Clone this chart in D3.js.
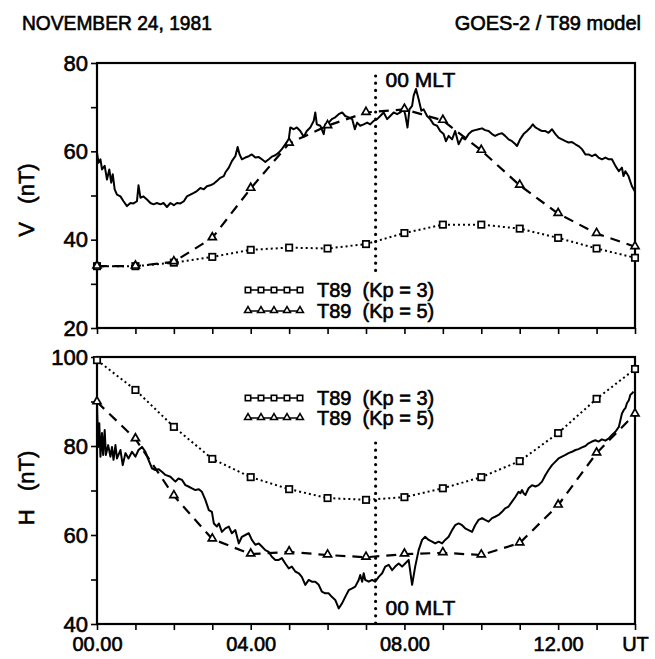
<!DOCTYPE html>
<html>
<head>
<meta charset="utf-8">
<script src="https://cdn.jsdelivr.net/npm/d3@7"></script>
<style>
  body { margin: 0; background: #fff; }
  text { font-family: "Liberation Sans", Arial, sans-serif; fill: #000; }
</style>
</head>
<body>
<div id="vis"></div>
<script>
// model values, one per hour UT
var modelHours = [0,1,2,3,4,5,6,7,8,9,10,11,12,13,14];
var vKp3 = [34,34,34.8,36.1,37.7,38.2,38,39,41.5,43.4,43.4,42.5,40.4,38,35.9];
var vKp5 = [34,34,35,40.4,51.6,61.8,65.8,68.8,69.5,67,60.2,52.3,45.9,41.4,38.4];
var hKp3 = [99.3,92.6,84.3,77.1,73,70.3,68.3,67.9,68.5,70.5,73,76.6,82.9,90.6,97.3];
var hKp5 = [89.9,81.6,68.8,59.1,55.7,56.2,55.5,55,55.7,56,55.5,58.2,66.7,78.4,87.2];

var vObsT = [0,.04,.09,.13,.2,.26,.32,.37,.41,.46,.52,.61,.69,.78,.87,.95,1.04,1.08,1.13,1.21,1.3,1.39,1.47,1.56,1.65,1.73,1.82,1.91,2,2.08,2.17,2.26,2.34,2.43,2.52,2.6,2.69,2.78,2.86,2.95,3.04,3.12,3.21,3.3,3.34,3.43,3.51,3.6,3.66,3.71,3.77,3.86,3.95,4.03,4.12,4.21,4.29,4.38,4.47,4.55,4.64,
  4.73,4.81,4.9,4.99,5.03,5.12,5.2,5.29,5.38,5.46,5.55,5.64,5.68,5.72,5.81,5.9,5.94,6.03,6.11,6.2,6.29,6.38,6.46,6.55,6.64,6.71,6.77,6.85,6.94,7.03,7.11,7.2,7.29,7.37,7.46,7.55,7.63,7.72,7.81,7.89,7.98,8.02,8.08,8.13,8.2,8.24,8.3,8.37,8.44,8.5,8.59,8.67,8.76,8.85,8.93,9.02,9.08,9.15,9.24,9.32,
  9.41,9.5,9.58,9.67,9.76,9.84,9.93,10.02,10.1,10.19,10.28,10.36,10.45,10.54,10.62,10.71,10.8,10.89,10.93,11.01,11.1,11.19,11.28,11.34,11.41,11.49,11.58,11.67,11.75,11.84,11.93,12.01,12.1,12.19,12.27,12.36,12.45,12.53,12.62,12.71,12.79,12.88,12.97,13.05,13.14,13.23,13.32,13.4,13.49,13.58,13.66,13.7,13.75,13.83,13.92,13.99];
var vObs = [59.7,57.4,58.2,55.9,56.7,53.6,55.9,52.9,54.8,51.4,50.2,49.8,48.7,47.6,48.3,48.2,48.7,52.3,49.5,49.8,49.1,48.3,48,48.3,48,48.3,47.4,48.3,47.8,48.3,48.2,48.7,49.8,50.2,50.6,51,51.7,51.4,52.1,52.3,52.7,53.3,54,54.4,55.2,56.3,57.8,58.9,61,59.3,58.2,58.6,58.9,59.3,58.6,58.7,58.2,57.6,58.2,58.8,59.1,
  59.7,60.5,61.6,62.7,65.4,65,65.4,64.6,63.3,64.6,65.4,66.9,68.8,66.1,65.8,63.9,66.1,66.5,67.3,67.7,68.4,68.8,68,67.7,67.3,65,66.5,65.8,66.1,66.5,66.1,66.9,67.3,68,68.8,67.3,68,68.8,68.4,68.8,69.5,68.4,65.4,69.5,70.3,72.6,74.1,71.8,69.2,69.5,68,67.3,66.1,65.8,64.6,63.9,62.3,63.5,62.7,64.6,
  61.6,63.1,62.7,63.9,64.6,64.8,65,65.2,64.8,64.6,63.9,63.5,63.9,64.1,63.5,62.7,62.3,61.6,61.2,62.7,63.9,64.6,65.4,66.1,65.4,65,64.6,64.6,64.2,65,63.9,63.1,62.7,62.3,62,62.1,61.6,61.2,60.5,59.3,59.3,58.9,59.3,58.6,58.2,58.6,58.2,58.2,56.7,55.5,56.3,54.4,55.5,54.4,52.1,51];

var hObsT = [0,.03,.06,.09,.13,.16,.2,.23,.29,.35,.39,.43,.48,.52,.61,.67,.74,.82,.91,1,1.08,1.17,1.26,1.34,1.43,1.52,1.6,1.69,1.78,1.91,2.04,2.12,2.21,2.3,2.38,2.47,2.56,2.65,2.73,2.82,2.91,2.99,3.04,3.12,3.17,3.25,3.34,3.43,3.51,3.6,3.69,3.77,3.86,3.95,4.03,4.12,4.21,4.29,4.38,4.47,4.55,4.64,
  4.73,4.81,4.9,4.99,5.07,5.16,5.25,5.33,5.42,5.51,5.59,5.68,5.77,5.85,5.94,6.03,6.11,6.2,6.29,6.38,6.46,6.55,6.64,6.72,6.81,6.85,6.9,6.94,6.98,7.07,7.16,7.24,7.33,7.42,7.5,7.59,7.68,7.76,7.85,7.94,8.02,8.11,8.2,8.28,8.37,8.46,8.54,8.63,8.72,8.8,8.89,8.98,9.06,9.15,9.24,9.32,
  9.41,9.5,9.58,9.67,9.76,9.84,9.93,10.02,10.1,10.19,10.28,10.36,10.45,10.54,10.62,10.71,10.8,10.89,10.97,11.02,11.06,11.1,11.15,11.23,11.32,11.41,11.49,11.58,11.67,11.75,11.84,11.93,12.01,12.1,12.19,12.27,12.36,12.45,12.53,12.62,12.71,12.79,12.88,12.97,13.05,13.14,13.23,13.32,13.4,13.49,13.58,13.62,13.66,13.71,13.75,13.79,13.84,13.88,13.92,13.96];
var hObs = [89.6,79.8,85.1,77.6,82.9,78,83.6,78,80.2,77.6,79.8,76.9,80.2,77.2,79.1,75.7,78.4,77.2,78.7,77.6,79.1,79.8,78.7,76.9,75,74.6,74.8,74.2,73.5,73.1,72,72.7,72.4,71.2,70.9,70.5,70.1,70.3,69.7,67.9,65.6,65.2,62.6,61.9,62.6,60.7,61.5,61.9,60.4,61.1,58.1,59.6,60,60.4,58.9,57.8,58.1,57.4,56.6,56.2,55.1,54.4,
  54.4,54.8,53.6,52.5,52.9,51.8,51.4,50.6,48.8,49.9,49.5,49.5,48.8,47.3,46.9,46.9,46.1,45.4,43.5,44.7,46.1,47.6,48,48.4,49.9,51,49.5,51.4,49.9,49.5,49.9,49.5,50.6,51.4,52.9,53.3,52.1,52.9,53.6,52.9,53.6,54.4,48.8,52.9,56.6,58.9,59.6,58.9,58.5,58.1,58.5,58.1,58.9,59.6,61.1,62.2,
  62.6,62.2,61.5,61.1,60.7,62.2,63.4,63.8,63.4,63,63.8,64.1,64.5,65.2,66,66.4,67.5,68.6,69.7,69.4,70.1,69.4,69,70.5,71.2,70.9,71.2,72,73.5,74.6,75.7,76.5,77.2,77.6,78,78.4,78.7,79.1,79.3,79.7,80,80.6,81,81.3,81,81.5,81.2,81.7,82.5,83.2,84.3,85.8,87.3,88.1,88.5,89.6,90.3,91.5,91.8,92.2];

var mltHour = 7.25;
var xLabels = {0: "00.00", 4: "04.00", 8: "08.00", 12: "12.00", 14: "UT"};
var vLabelTicks = [20, 40, 60, 80];
var hLabelTicks = [40, 60, 80, 100];
var legendNames = ["T89  (Kp = 3)", "T89  (Kp = 5)"];

var width = 655, height = 659;
var svg = d3.select("#vis").append("svg")
    .attr("width", width)
    .attr("height", height);

var x = d3.scaleLinear().domain([0, 14]).range([97, 635]);

/* heavier text, closer to the scanned look */
function ink(sel, size){
    return sel.style("font-size", size + "px")
        .attr("stroke", "#000").attr("stroke-width", 0.6);
}

ink(svg.append("text").attr("x", 22).attr("y", 30), 20)
    .attr("transform", "translate(22,30) scale(0.96,1.05) translate(-22,-30)")
    .text("NOVEMBER 24, 1981");
ink(svg.append("text").attr("x", 641).attr("y", 30).attr("text-anchor", "end"), 20)
    .attr("transform", "translate(641,30) scale(1.0,1.05) translate(-641,-30)")
    .text("GOES-2 / T89 model");

/* Draw one panel: frame, axes, model curves, observations, legend, MLT mark */
function panel(opt){
    var y = d3.scaleLinear().domain(opt.domain).range([opt.bottom, opt.top]);
    var g = svg.append("g");

    var yTicks = d3.range(opt.domain[0], opt.domain[1] + 1, 10);
    var yAxis = g.append("g")
        .attr("transform", "translate(" + x(0) + ",0)")
        .call(d3.axisLeft(y).tickValues(yTicks).tickSize(6).tickPadding(3)
            .tickFormat(function(d){ return opt.labels.indexOf(d) >= 0 ? d : ""; }));
    var xAxis = g.append("g")
        .attr("transform", "translate(0," + opt.bottom + ")")
        .call(d3.axisBottom(x).tickValues(modelHours).tickSize(6).tickPadding(7)
            .tickFormat(function(d){ return opt.xlabels && xLabels[d] ? xLabels[d] : ""; }));
    g.selectAll(".domain").remove();
    g.selectAll(".tick line").attr("stroke", "#000").attr("stroke-width", 1.6);
    ink(yAxis.selectAll(".tick text"), 22)
        .style("font-family", "Liberation Sans, Arial, sans-serif");
    ink(xAxis.selectAll(".tick text"), 20)
        .style("font-family", "Liberation Sans, Arial, sans-serif");

    g.append("rect")
        .attr("x", x(0)).attr("y", opt.top)
        .attr("width", x(14) - x(0)).attr("height", opt.bottom - opt.top)
        .attr("fill", "none").attr("stroke", "#000").attr("stroke-width", 2.2);

    ink(g.append("text"), 22)
        .attr("transform", "translate(" + 34 + "," + opt.titleY + ") rotate(-90)")
        .attr("text-anchor", "middle")
        .attr("xml:space", "preserve").style("white-space", "pre")
        .text(opt.title);

    // midnight MLT
    g.append("line")
        .attr("x1", x(mltHour)).attr("x2", x(mltHour))
        .attr("y1", opt.mltFrom).attr("y2", opt.mltTo)
        .attr("stroke", "#000").attr("stroke-width", 3.2)
        .attr("stroke-linecap", "round").attr("stroke-dasharray", "0,7.2");
    ink(g.append("text"), 21)
        .attr("x", x(mltHour) + 10).attr("y", opt.mltY)
        .text("00 MLT");

    var modelLine = d3.line().x(function(d, i){ return x(modelHours[i]); }).y(function(d){ return y(d); });
    g.append("path").attr("d", modelLine(opt.kp3))
        .attr("fill", "none").attr("stroke", "#000").attr("stroke-width", 2)
        .attr("stroke-dasharray", "2,3");
    g.append("path").attr("d", modelLine(opt.kp5))
        .attr("fill", "none").attr("stroke", "#000").attr("stroke-width", 2.2)
        .attr("stroke-dasharray", "10,7");

    var obsLine = d3.line().x(function(d, i){ return x(opt.obsT[i]); }).y(function(d){ return y(d); });
    g.append("path").attr("d", obsLine(opt.obs))
        .attr("fill", "none").attr("stroke", "#000").attr("stroke-width", 2)
        .attr("stroke-linejoin", "round");

    var tri = d3.symbol().type(d3.symbolTriangle).size(28);
    var triSmall = d3.symbol().type(d3.symbolTriangle).size(20);
    g.selectAll(".sq").data(opt.kp3).enter().append("rect")
        .attr("x", function(d, i){ return x(modelHours[i]) - 3.2; })
        .attr("y", function(d){ return y(d) - 3.2; })
        .attr("width", 6.4).attr("height", 6.4)
        .attr("fill", "#fff").attr("stroke", "#000").attr("stroke-width", 1.7);
    g.selectAll(".tri").data(opt.kp5).enter().append("path")
        .attr("d", tri)
        .attr("transform", function(d, i){ return "translate(" + x(modelHours[i]) + "," + (y(d) - 0.5) + ")"; })
        .attr("fill", "#fff").attr("stroke", "#000").attr("stroke-width", 1.7);

    // legend
    var lx = [248, 261, 274, 287, 300];
    [0, 1].forEach(function(k){
        var ly = opt.legendY[k];
        g.append("line").attr("x1", lx[0]).attr("x2", lx[4]).attr("y1", ly).attr("y2", ly)
            .attr("stroke", "#000").attr("stroke-width", 1.5);
        lx.forEach(function(px){
            if(k == 0)
                g.append("rect").attr("x", px - 2.7).attr("y", ly - 2.7).attr("width", 5.4).attr("height", 5.4)
                    .attr("fill", "#fff").attr("stroke", "#000").attr("stroke-width", 1.6);
            else
                g.append("path").attr("d", triSmall).attr("transform", "translate(" + px + "," + (ly - 0.5) + ")")
                    .attr("fill", "#fff").attr("stroke", "#000").attr("stroke-width", 1.6);
        });
        ink(g.append("text"), 20).attr("x", 317).attr("y", ly + 7)
            .attr("xml:space", "preserve").style("white-space", "pre")
            .text(legendNames[k]);
    });
}

panel({domain: [20, 80], top: 63, bottom: 328, labels: vLabelTicks, xlabels: false,
       title: "V   (nT)", titleY: 200, kp3: vKp3, kp5: vKp5, obsT: vObsT, obs: vObs,
       mltFrom: 76, mltTo: 276, mltY: 87, legendY: [290, 311]});
panel({domain: [40, 100], top: 357, bottom: 624, labels: hLabelTicks, xlabels: true,
       title: "H   (nT)", titleY: 488, kp3: hKp3, kp5: hKp5, obsT: hObsT, obs: hObs,
       mltFrom: 443, mltTo: 624, mltY: 615, legendY: [398, 418]});
</script>
</body>
</html>
